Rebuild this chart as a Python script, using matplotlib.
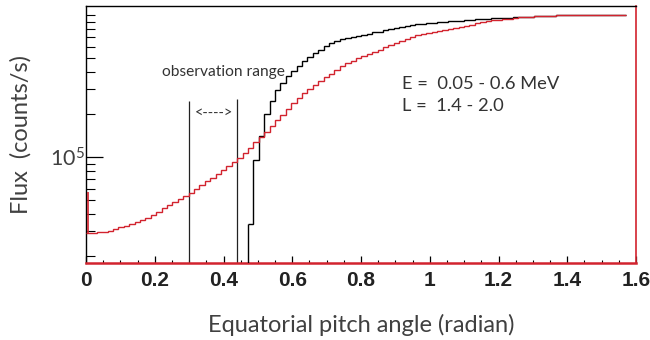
import numpy as np
import matplotlib
matplotlib.use('Agg')
import matplotlib.pyplot as plt
from matplotlib.ticker import FixedLocator, NullFormatter

# histogram binning: 100 bins over 0 .. pi/2
edges = np.linspace(0, np.pi / 2, 101)

# flux per bin, in units of 1e5 counts/s
red_flux = [0.294, 0.294, 0.296, 0.299, 0.304, 0.310, 0.320, 0.330, 0.340, 0.352,
            0.363, 0.375, 0.394, 0.414, 0.436, 0.458, 0.482, 0.507, 0.535, 0.564,
            0.598, 0.635, 0.675, 0.718, 0.764, 0.813, 0.865, 0.920, 0.986, 1.072,
            1.167, 1.271, 1.384, 1.514, 1.660, 1.820, 1.995, 2.188, 2.399, 2.618,
            2.818, 3.020, 3.221, 3.428, 3.648, 3.873, 4.121, 4.385, 4.613, 4.786,
            4.955, 5.129, 5.309, 5.508, 5.702, 5.943, 6.152, 6.383, 6.607, 6.839,
            7.047, 7.194, 7.328, 7.464, 7.603, 7.745, 7.889, 7.998, 8.128, 8.279,
            8.433, 8.590, 8.750, 8.913, 9.057, 9.183, 9.290, 9.376, 9.462, 9.550,
            9.638, 9.705, 9.772, 9.817, 9.863, 9.908, 9.931, 9.954, 9.977, 10.00,
            10.02, 10.05, 10.05, 10.05, 10.05, 10.05, 10.05, 10.05, 10.05, 10.05]

# black histogram starts at bin 30
black_start = 30
black_flux = [0.339, 0.950, 1.400, 2.000, 2.500, 2.950, 3.320, 3.700, 4.070, 4.400,
              4.750, 5.050, 5.380, 5.720, 6.100, 6.400, 6.600, 6.770, 6.930, 7.070,
              7.180, 7.280, 7.420, 7.550, 7.670, 7.800, 7.950, 8.100, 8.250, 8.400,
              8.550, 8.620, 8.700, 8.770, 8.840, 8.900, 8.980, 9.040, 9.100, 9.150,
              9.220, 9.280, 9.350, 9.400, 9.450, 9.500, 9.530, 9.570, 9.610, 9.650,
              9.690, 9.730, 9.780, 9.817, 9.863, 9.908, 9.931, 9.954, 9.977, 10.00,
              10.02, 10.05, 10.05, 10.05, 10.05, 10.05, 10.05, 10.05, 10.05, 10.05]

# narrow spike at the very first angle
spike_x = 0.005
spike_flux = 0.573

obs_range = [0.30, 0.44]
obs_top = [2.49, 2.57]

red = '#d2232e'
grey = '#404040'
ymin, ymax = 1.80e4, 1.16e6

fig = plt.figure(figsize=(6.5, 3.4), dpi=100)
ax = fig.add_axes([0.1323, 0.2265, 0.8462, 0.7559])

red_v = np.array(red_flux) * 1e5
black_v = np.array(black_flux) * 1e5

ax.stairs(black_v, edges[black_start:], baseline=None, color='black', lw=1.0, zorder=3)
ax.vlines(edges[black_start], ymin, black_v[0], color='black', lw=1.0, zorder=3)
ax.stairs(red_v, edges, baseline=None, color=red, lw=1.0, zorder=4)
ax.vlines(spike_x, red_v[0], spike_flux * 1e5, color=red, lw=1.2, zorder=4)

for xv, yt in zip(obs_range, obs_top):
    ax.vlines(xv, ymin, yt * 1e5, color='#222222', lw=0.9, zorder=2)

ax.text(0.372, 2.05e5, '<---->', ha='center', va='center', fontsize=10.5,
        family='Lato', color='#333333')
ax.text(0.221, 3.95e5, 'observation range', ha='left', va='center', fontsize=11.2,
        family='Lato', color='#333333')
ax.text(0.92, 2.75e5, 'E =  0.05 - 0.6 MeV\nL =  1.4 - 2.0', ha='left', va='center',
        fontsize=13.2, family='Lato', color='#333333', linespacing=1.45)

ax.set_yscale('log')
ax.set_xlim(0, 1.6)
ax.set_ylim(ymin, ymax)

ax.xaxis.set_major_locator(FixedLocator([0, 0.2, 0.4, 0.6, 0.8, 1.0, 1.2, 1.4, 1.6]))
ax.xaxis.set_minor_locator(FixedLocator(np.arange(0, 1.61, 0.05)))
ax.set_xticklabels(['0', '0.2', '0.4', '0.6', '0.8', '1', '1.2', '1.4', '1.6'],
                   family='Liberation Sans', fontweight='bold', fontsize=15, color='#222222')

ax.yaxis.set_major_locator(FixedLocator([1e5]))
ax.yaxis.set_minor_locator(FixedLocator([k * 1e4 for k in range(2, 10)] +
                                        [k * 1e5 for k in range(2, 11)]))
ax.yaxis.set_minor_formatter(NullFormatter())
ax.set_yticklabels(['$\\mathregular{10^5}$'], fontsize=15.5, color=grey, family='Lato')

ax.tick_params(axis='x', which='major', direction='in', length=5, width=0.9, pad=6,
               top=False)
ax.tick_params(axis='x', which='minor', direction='in', length=2.5, width=0.8, top=False)
ax.tick_params(axis='y', which='major', direction='in', length=12, width=0.9, pad=1,
               right=False)
ax.tick_params(axis='y', which='minor', direction='in', length=6.5, width=0.8, right=False)

for s in ['top', 'left']:
    ax.spines[s].set_linewidth(1.0)
ax.spines['bottom'].set_color(red)
ax.spines['bottom'].set_linewidth(1.8)
ax.spines['right'].set_color(red)
ax.spines['right'].set_linewidth(1.2)

ax.set_xlabel('Equatorial pitch angle (radian)', family='Lato', fontsize=17,
              color=grey, labelpad=17)
ax.set_ylabel('Flux  (counts/s)', family='Lato', fontsize=17, color=grey, labelpad=13)

fig.savefig('out.png', dpi=100)
